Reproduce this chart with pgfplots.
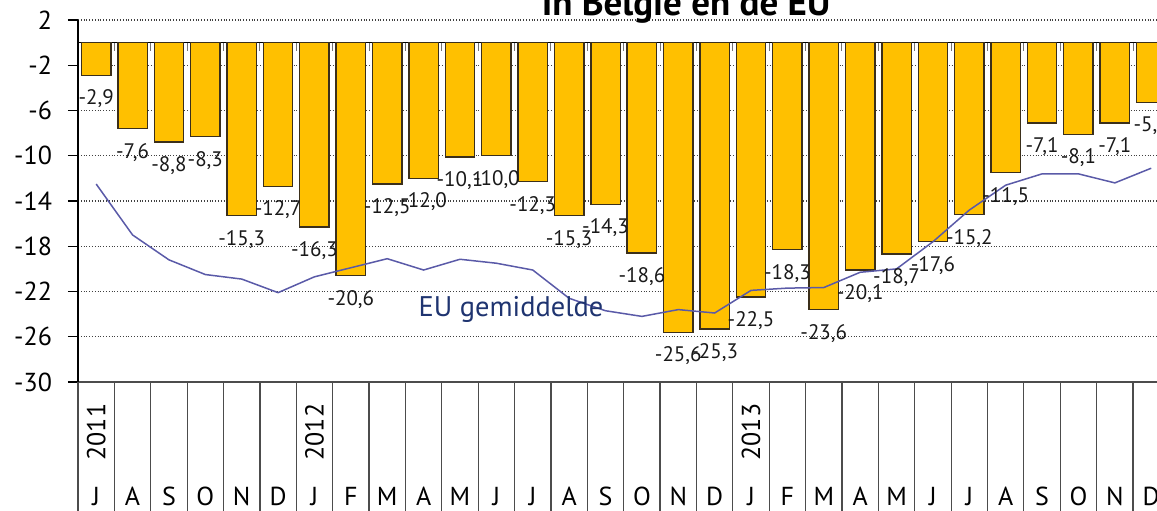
\documentclass[border=0pt]{standalone}
\usepackage{pgfplots}
\pgfplotsset{compat=1.18}
\usepackage{fontspec}
\setmainfont{PT Sans}
\definecolor{barfill}{HTML}{FFC000}
\definecolor{baredge}{HTML}{3B2F1A}
\definecolor{euline}{HTML}{5A5AA8}
\definecolor{eutext}{HTML}{1F3470}
\begin{document}
\begin{tikzpicture}
\path[use as bounding box] (-39pt,-64pt) rectangle (539.5pt,191pt);
\clip (-39pt,-64pt) rectangle (539.5pt,191pt);
\begin{axis}[
  at={(0pt,0pt)}, anchor=south west,
  scale only axis, width=545.7pt, height=181pt,
  xmin=0.5, xmax=30.5, ymin=-30, ymax=2,
  axis x line*=bottom, axis y line*=left,
  x axis line style={draw=black!70, line width=0.6pt},
  y axis line style={draw=black, line width=0.6pt},
  ytick={-30,-26,...,2},
  tick align=outside, major tick length=5pt,
  ytick style={draw=black, line width=0.6pt},
  yticklabel style={font=\fontsize{13}{13}\selectfont, xshift=-4.5pt},
  ymajorgrids, grid style={densely dotted, black!75, line width=0.55pt},
  extra y ticks={0}, extra y tick labels={},
  extra y tick style={ymajorgrids, major grid style={solid, black, line width=0.6pt}, ytick style={draw=none}},
  xtick={1,...,30},
  xticklabels={J,A,S,O,N,D,J,F,M,A,M,J,J,A,S,O,N,D,J,F,M,A,M,J,J,A,S,O,N,D},
  xtick style={draw=none},
  xticklabel style={anchor=base, yshift=-56.5pt, font=\fontsize{13}{13}\selectfont},
  extra x ticks={0.5,1.5,...,29.5}, extra x tick labels={},
  extra x tick style={major tick length=70pt, xtick style={draw=black!70, line width=0.6pt}},
  /pgf/number format/assume math mode=true,
  /pgf/number format/use comma,
  clip=false,
]
\addplot[ybar, bar width=14.7pt, fill=barfill, draw=baredge, line width=0.7pt,
  nodes near coords,
  nodes near coords style={font=\fontsize{10.5}{11}\selectfont, text=black!90, yshift=-3.6pt,
    /pgf/number format/.cd, fixed, fixed zerofill, precision=1, use comma, assume math mode=true}]
coordinates {
(1,-2.9) (2,-7.6) (3,-8.8) (4,-8.3) (5,-15.3) (6,-12.7) (7,-16.3) (8,-20.6) (9,-12.5) (10,-12.0)
(11,-10.1) (12,-10.0) (13,-12.3) (14,-15.3) (15,-14.3) (16,-18.6) (17,-25.6) (18,-25.3) (19,-22.5) (20,-18.3)
(21,-23.6) (22,-20.1) (23,-18.7) (24,-17.6) (25,-15.2) (26,-11.5) (27,-7.1) (28,-8.1) (29,-7.1) (30,-5.3)
};
\addplot[sharp plot, no marks, color=euline, line width=0.75pt]
coordinates {
(1,-12.5) (2,-17.0) (3,-19.2) (4,-20.5) (5,-20.9) (6,-22.1) (7,-20.7) (8,-19.9) (9,-19.1) (10,-20.1)
(11,-19.15) (12,-19.5) (13,-20.1) (14,-22.6) (15,-23.7) (16,-24.2) (17,-23.6) (18,-23.9) (19,-21.9) (20,-21.7)
(21,-21.65) (22,-20.3) (23,-20.0) (24,-17.6) (25,-14.8) (26,-12.6) (27,-11.6) (28,-11.6) (29,-12.4) (30,-11.1)
};
\pgfplotsinvokeforeach{1.5,2.5,...,29.5}{\draw[black!55, line width=0.5pt] (axis cs:#1,0) -- (axis cs:#1,-0.7);}
\node[anchor=base west, text=eutext, font=\fontsize{14.2}{15}\selectfont] at (axis cs:9.67,-24.2) {EU gemiddelde};
\node[rotate=90, font=\fontsize{13}{13}\selectfont] at ([yshift=-25pt]axis cs:1,-30) {2011};
\node[rotate=90, font=\fontsize{13}{13}\selectfont] at ([yshift=-25pt]axis cs:7,-30) {2012};
\node[rotate=90, font=\fontsize{13}{13}\selectfont] at ([yshift=-25pt]axis cs:19,-30) {2013};
\end{axis}
\node[anchor=base, font=\bfseries\fontsize{18.5}{18}\selectfont] at (304pt,183.5pt) {In België en de EU};
\end{tikzpicture}
\end{document}
